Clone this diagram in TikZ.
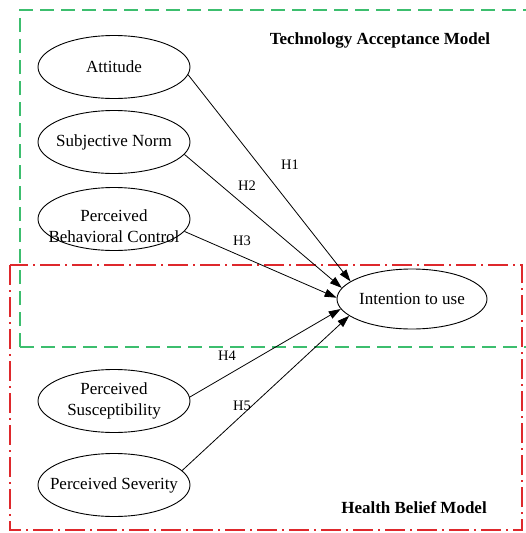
\documentclass[tikz,border=0pt]{standalone}
\usepackage{fontspec}
\setmainfont{Liberation Serif}
\usetikzlibrary{shapes.geometric,arrows.meta}
\definecolor{tamgreen}{RGB}{60,190,110}
\definecolor{hbmred}{RGB}{222,40,44}
\tikzset{
  construct/.style={ellipse,draw=black,line width=0.9pt,fill=white,
    minimum width=152pt,minimum height=63pt,inner sep=0pt},
  caption/.style={inner sep=0pt,align=center,font=\fontsize{17}{20.5}\selectfont},
  path/.style={draw=black,line width=0.8pt,-{Triangle[length=12pt,width=8pt]}},
  hyp/.style={font=\fontsize{14.5}{16}\selectfont},
  modeltitle/.style={font=\bfseries\fontsize{17}{20}\selectfont},
  tambox/.style={draw=tamgreen,line width=1.8pt,dash pattern=on 14pt off 7pt},
  hbmbox/.style={draw=hbmred,line width=1.4pt,dash pattern=on 20pt off 5pt on 2pt off 5pt}
}
\begin{document}
\begin{tikzpicture}[x=1pt,y=-1pt]
\useasboundingbox (0,0) rectangle (525,533);
% model frames
\draw[tambox] (20,347) -- (20,10) -- (526,10);
\draw[tambox] (20,347) -- (526,347);
\draw[hbmbox] (10,265) rectangle (522,530);

\node[modeltitle] (tam) at (380,40) {Technology Acceptance Model};
\node[modeltitle] (hbm) at (414,508) {Health Belief Model};

% constructs (fixed-size ellipses, captions set on top)
\node[construct] (att) at (114,67) {};
\node[construct] (sn) at (114,142) {};
\node[construct] (pbc) at (114,219) {};
\node[construct,minimum width=150pt,minimum height=60pt] (iu) at (412,299) {};
\node[construct] (ps) at (114,401) {};
\node[construct] (psev) at (114,485) {};

\node[caption] (attT) at (att) {Attitude};
\node[caption] (snT) at (sn) {Subjective Norm};
\node[caption] (pbcT) at ([yshift=-7pt]pbc.center) {Perceived\\Behavioral Control};
\node[caption] (iuT) at (iu) {Intention to use};
\node[caption] (psT) at (ps) {Perceived\\Susceptibility};
\node[caption] (psevT) at (psev) {Perceived Severity};

% hypothesised paths
\draw[path] (att.-6) -- (iu.164);
\draw[path] (sn.-10) -- (iu.171);
\draw[path] (pbc.-10) -- (iu.179);
\draw[path] (ps.3) -- (iu.188);
\draw[path] (psev.12) -- (iu.195);

\node[hyp] (h1) at (290,165) {H1};
\node[hyp] (h2) at (247,186) {H2};
\node[hyp] (h3) at (242,241) {H3};
\node[hyp] (h4) at (227,356) {H4};
\node[hyp] (h5) at (242,406) {H5};
\end{tikzpicture}
\end{document}
